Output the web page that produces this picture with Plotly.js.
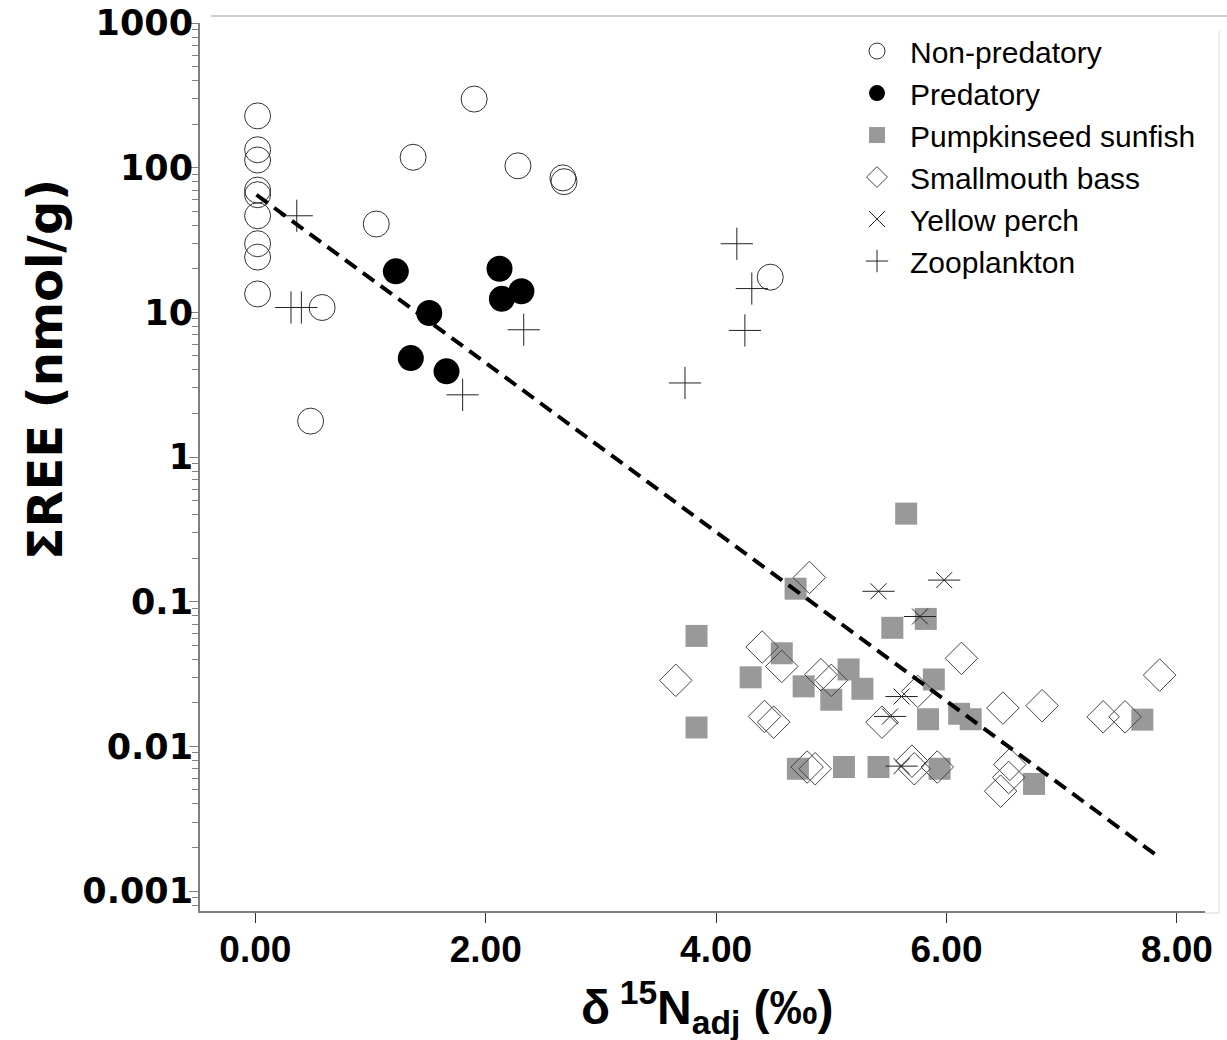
<!DOCTYPE html>
<html>
<head>
<meta charset="utf-8">
<script src="https://cdn.plot.ly/plotly-3.0.1.min.js"></script>
<style>html,body{margin:0;padding:0;background:#fff;}#chart{width:1227px;height:1040px;}</style>
</head>
<body>
<div id="chart"></div>
<script>
// Non-predatory (open circles)
const nonPredX = [0.02,0.02,0.02,0.02,0.02,0.02,0.02,0.02,0.02,0.58,0.48,1.05,1.37,1.90,2.28,2.67,2.68,4.47];
const nonPredY = [228,133,113,70,65,46.5,29.8,24.1,13.4,10.8,1.77,40.8,118,298,103,85,80,17.5];
// Predatory (filled circles)
const predX = [1.22,1.51,1.35,1.66,2.12,2.31,2.14];
const predY = [19.2,9.9,4.83,3.91,20.0,14.0,12.4];
// Pumpkinseed sunfish (grey squares)
const pumpX = [5.65,4.69,3.83,5.53,5.82,4.57,4.30,4.76,5.15,5.27,5.00,5.89,5.84,6.11,6.21,3.83,4.71,5.11,5.41,5.94,7.70,6.76];
const pumpY = [0.406,0.123,0.058,0.066,0.076,0.044,0.030,0.026,0.034,0.025,0.021,0.029,0.0154,0.0168,0.0154,0.0135,0.0070,0.0072,0.0072,0.0070,0.0153,0.0055];
// Smallmouth bass (open diamonds)
const bassX = [4.81,3.65,4.40,4.57,4.91,5.00,6.13,5.75,4.42,4.50,5.44,4.79,4.86,5.70,5.72,5.92,6.49,6.83,7.36,7.55,7.85,6.55,6.54,6.47];
const bassY = [0.147,0.0286,0.0486,0.0357,0.0313,0.0286,0.0406,0.024,0.0161,0.0147,0.0147,0.0072,0.0070,0.0079,0.0070,0.0072,0.0184,0.0191,0.0160,0.0160,0.0311,0.0075,0.0061,0.0049];
// Yellow perch (asterisks)
const perchX = [5.41,5.98,5.77,5.61,5.51,5.61];
const perchY = [0.118,0.141,0.079,0.0221,0.0161,0.0073];
// Zooplankton (crosses)
const zooX = [0.36,0.31,0.40,1.80,2.33,4.18,4.31,4.25,3.73];
const zooY = [46.5,10.8,10.8,2.69,7.58,29.8,14.6,7.5,3.25];
// Regression line end points
const fitX = [0.01, 7.835];
const fitY = [65, 0.00174];

const seriesNames = ['Non-predatory','Predatory','Pumpkinseed sunfish','Smallmouth bass','Yellow perch','Zooplankton'];
const xTickVals = [0,2,4,6,8];
const xTickText = ['0.00','2.00','4.00','6.00','8.00'];
const yTickVals = [1000,100,10,1,0.1,0.01,0.001];
const yTickText = ['1000','100','10','1','0.1','0.01','0.001'];

const traces = [
  {x:nonPredX, y:nonPredY, name:seriesNames[0], type:'scatter', mode:'markers', legendgroup:'a',
   marker:{symbol:'circle-open', size:26, color:'#333333', line:{width:1, color:'#333333'}}},
  {x:predX, y:predY, name:seriesNames[1], type:'scatter', mode:'markers', legendgroup:'b',
   marker:{symbol:'circle', size:26, color:'#000000', line:{width:0}}},
  {x:pumpX, y:pumpY, name:seriesNames[2], type:'scatter', mode:'markers', legendgroup:'c',
   marker:{symbol:'square', size:22, color:'#999999', line:{width:0}}},
  {x:bassX, y:bassY, name:seriesNames[3], type:'scatter', mode:'markers', legendgroup:'d',
   marker:{symbol:'diamond-open', size:25, color:'#444444', line:{width:1, color:'#444444'}}},
  {x:perchX, y:perchY, name:seriesNames[4], type:'scatter', mode:'markers', legendgroup:'e',
   marker:{symbol:'x-thin-open', size:16, color:'#222222', line:{width:1, color:'#222222'}}},
  {x:perchX, y:perchY, name:seriesNames[4], type:'scatter', mode:'markers', legendgroup:'e', showlegend:false,
   marker:{symbol:'line-ew-open', size:23, color:'#222222', line:{width:1, color:'#222222'}}},
  {x:zooX, y:zooY, name:seriesNames[5], type:'scatter', mode:'markers', legendgroup:'f',
   marker:{symbol:'cross-thin-open', size:23, color:'#222222', line:{width:1, color:'#222222'}}},
  {x:fitX, y:fitY, type:'scatter', mode:'lines', showlegend:false, hoverinfo:'skip',
   line:{color:'#000000', width:4, dash:'14px,8px'}}
];

const layout = {
  width:1227, height:1040,
  margin:{l:200, r:22, t:23, b:129, pad:0},
  paper_bgcolor:'#ffffff', plot_bgcolor:'#ffffff',
  showlegend:true,
  legend:{x:0.6408, y:0.9977, xanchor:'left', yanchor:'top', bgcolor:'rgba(0,0,0,0)',
    font:{family:'Liberation Sans, Arial, sans-serif', size:30, color:'#000'},
    itemwidth:56, traceorder:'grouped', tracegroupgap:0},
  xaxis:{range:[-0.48, 8.244], tickmode:'array', tickvals:xTickVals, ticktext:xTickText,
    ticks:'outside', ticklen:10, tickwidth:1, tickcolor:'#333', ticklabelstandoff:-5,
    showline:true, linecolor:'#808080', linewidth:2, showgrid:false, zeroline:false,
    tickfont:{family:'Liberation Sans, Arial, sans-serif', size:37, color:'#000', weight:'bold'}},
  yaxis:{type:'log', range:[-3.138, 3.0], tickmode:'array', tickvals:yTickVals, ticktext:yTickText,
    ticks:'outside', ticklen:9, tickwidth:1, tickcolor:'#808080', ticklabelstandoff:-11,
    showline:true, linecolor:'#808080', linewidth:2, showgrid:false, zeroline:false,
    minor:{ticks:'outside', ticklen:6, tickwidth:1, tickcolor:'#808080', dtick:'D1', showgrid:false},
    tickfont:{family:'DejaVu Sans, sans-serif', size:35, color:'#000', weight:'bold'}},
  annotations:[
    {text:'ΣREE (nmol/g)', xref:'paper', yref:'paper', x:-0.1542, y:0.609, textangle:-90,
     showarrow:false, xanchor:'center', yanchor:'middle',
     font:{family:'DejaVu Sans, sans-serif', size:48, color:'#000', weight:'bold'}},
    {text:'δ\u2009<sup>15</sup>N<sub>adj</sub> (‰)', xref:'paper', yref:'paper', x:0.5045, y:-0.109,
     showarrow:false, xanchor:'center', yanchor:'middle',
     font:{family:'Liberation Sans, Arial, sans-serif', size:48, color:'#000', weight:'bold'}}
  ],
  shapes:[
    {type:'line', xref:'paper', yref:'paper', x0:0.011, x1:1.0219, y0:1.0079, y1:1.0079, line:{color:'#bbbbbb', width:1.5}},
    {type:'line', xref:'paper', yref:'paper', x0:1.0139, x1:1.0139, y0:0.991, y1:-0.00225, line:{color:'#e3e3e3', width:1.5}},
    {type:'line', xref:'paper', yref:'paper', x0:1.0, x1:1.0139, y0:-0.00225, y1:-0.00225, line:{color:'#e3e3e3', width:1.5}}
  ]
};

Plotly.newPlot('chart', traces, layout, {displayModeBar:false, staticPlot:true});
</script>
</body>
</html>
